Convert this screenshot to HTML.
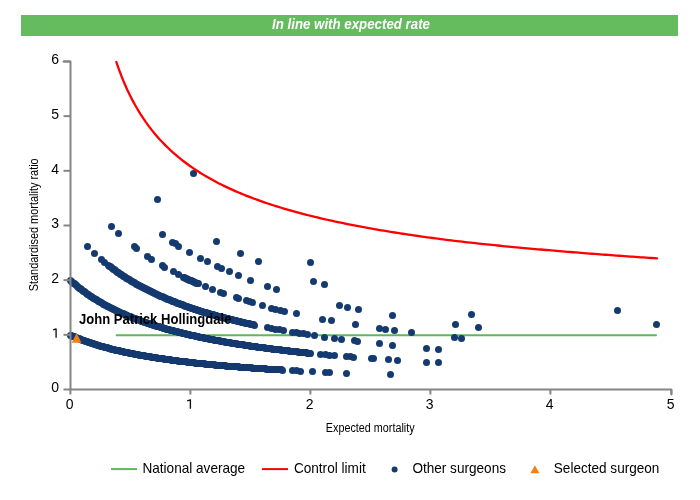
<!DOCTYPE html>
<html><head><meta charset="utf-8"><style>
html,body{margin:0;padding:0;background:#fff;width:700px;height:500px;overflow:hidden}
svg{display:block;font-family:"Liberation Sans",sans-serif;will-change:transform}
</style></head><body>
<svg width="700" height="500" viewBox="0 0 700 500">
<rect x="21" y="15" width="657" height="21" fill="#64BC5F"/>
<text x="272" y="29.2" font-weight="bold" font-style="italic" font-size="14" fill="#fff" textLength="158" lengthAdjust="spacingAndGlyphs">In line with expected rate</text>
<line x1="116.6" y1="335.3" x2="656" y2="335.3" stroke="#5CB85A" stroke-width="2" stroke-linecap="round"/>
<g fill="#143A70"><circle cx="70.5" cy="335.5" r="3.5"/><circle cx="71.5" cy="335.5" r="3.5"/><circle cx="72.5" cy="336.5" r="3.5"/><circle cx="73.5" cy="336.5" r="3.5"/><circle cx="74.5" cy="336.5" r="3.5"/><circle cx="75.5" cy="337.5" r="3.5"/><circle cx="76.5" cy="337.5" r="3.5"/><circle cx="77.5" cy="338.5" r="3.5"/><circle cx="78.5" cy="338.5" r="3.5"/><circle cx="79.5" cy="338.5" r="3.5"/><circle cx="80.5" cy="339.5" r="3.5"/><circle cx="81.5" cy="339.5" r="3.5"/><circle cx="82.5" cy="340.5" r="3.5"/><circle cx="83.5" cy="340.5" r="3.5"/><circle cx="84.5" cy="340.5" r="3.5"/><circle cx="85.5" cy="341.5" r="3.5"/><circle cx="86.5" cy="341.5" r="3.5"/><circle cx="87.5" cy="341.5" r="3.5"/><circle cx="88.5" cy="342.5" r="3.5"/><circle cx="89.5" cy="342.5" r="3.5"/><circle cx="90.5" cy="342.5" r="3.5"/><circle cx="91.5" cy="343.5" r="3.5"/><circle cx="92.5" cy="343.5" r="3.5"/><circle cx="93.5" cy="343.5" r="3.5"/><circle cx="94.5" cy="344.5" r="3.5"/><circle cx="95.5" cy="344.5" r="3.5"/><circle cx="96.5" cy="344.5" r="3.5"/><circle cx="97.5" cy="345.5" r="3.5"/><circle cx="98.5" cy="345.5" r="3.5"/><circle cx="99.5" cy="345.5" r="3.5"/><circle cx="100.5" cy="346.5" r="3.5"/><circle cx="101.5" cy="346.5" r="3.5"/><circle cx="102.5" cy="346.5" r="3.5"/><circle cx="103.5" cy="346.5" r="3.5"/><circle cx="104.5" cy="347.5" r="3.5"/><circle cx="105.5" cy="347.5" r="3.5"/><circle cx="106.5" cy="347.5" r="3.5"/><circle cx="107.5" cy="347.5" r="3.5"/><circle cx="108.5" cy="348.5" r="3.5"/><circle cx="109.5" cy="348.5" r="3.5"/><circle cx="110.5" cy="348.5" r="3.5"/><circle cx="111.5" cy="349.5" r="3.5"/><circle cx="112.5" cy="349.5" r="3.5"/><circle cx="113.5" cy="349.5" r="3.5"/><circle cx="114.5" cy="349.5" r="3.5"/><circle cx="115.5" cy="350.5" r="3.5"/><circle cx="116.5" cy="350.5" r="3.5"/><circle cx="117.5" cy="350.5" r="3.5"/><circle cx="118.5" cy="350.5" r="3.5"/><circle cx="119.5" cy="350.5" r="3.5"/><circle cx="120.5" cy="351.5" r="3.5"/><circle cx="121.5" cy="351.5" r="3.5"/><circle cx="122.5" cy="351.5" r="3.5"/><circle cx="123.5" cy="351.5" r="3.5"/><circle cx="124.5" cy="352.5" r="3.5"/><circle cx="125.5" cy="352.5" r="3.5"/><circle cx="126.5" cy="352.5" r="3.5"/><circle cx="127.5" cy="352.5" r="3.5"/><circle cx="128.5" cy="352.5" r="3.5"/><circle cx="129.5" cy="353.5" r="3.5"/><circle cx="130.5" cy="353.5" r="3.5"/><circle cx="131.5" cy="353.5" r="3.5"/><circle cx="132.5" cy="353.5" r="3.5"/><circle cx="133.5" cy="353.5" r="3.5"/><circle cx="134.5" cy="354.5" r="3.5"/><circle cx="135.5" cy="354.5" r="3.5"/><circle cx="136.5" cy="354.5" r="3.5"/><circle cx="137.5" cy="354.5" r="3.5"/><circle cx="138.5" cy="354.5" r="3.5"/><circle cx="139.5" cy="355.5" r="3.5"/><circle cx="140.5" cy="355.5" r="3.5"/><circle cx="141.5" cy="355.5" r="3.5"/><circle cx="142.5" cy="355.5" r="3.5"/><circle cx="143.5" cy="355.5" r="3.5"/><circle cx="144.5" cy="355.5" r="3.5"/><circle cx="145.5" cy="356.5" r="3.5"/><circle cx="146.5" cy="356.5" r="3.5"/><circle cx="147.5" cy="356.5" r="3.5"/><circle cx="148.5" cy="356.5" r="3.5"/><circle cx="149.5" cy="356.5" r="3.5"/><circle cx="150.5" cy="356.5" r="3.5"/><circle cx="151.5" cy="357.5" r="3.5"/><circle cx="152.5" cy="357.5" r="3.5"/><circle cx="153.5" cy="357.5" r="3.5"/><circle cx="154.5" cy="357.5" r="3.5"/><circle cx="155.5" cy="357.5" r="3.5"/><circle cx="156.5" cy="357.5" r="3.5"/><circle cx="157.5" cy="358.5" r="3.5"/><circle cx="158.5" cy="358.5" r="3.5"/><circle cx="159.5" cy="358.5" r="3.5"/><circle cx="160.5" cy="358.5" r="3.5"/><circle cx="161.5" cy="358.5" r="3.5"/><circle cx="162.5" cy="358.5" r="3.5"/><circle cx="163.5" cy="358.5" r="3.5"/><circle cx="164.5" cy="359.5" r="3.5"/><circle cx="165.5" cy="359.5" r="3.5"/><circle cx="166.5" cy="359.5" r="3.5"/><circle cx="167.5" cy="359.5" r="3.5"/><circle cx="168.5" cy="359.5" r="3.5"/><circle cx="169.5" cy="359.5" r="3.5"/><circle cx="170.5" cy="359.5" r="3.5"/><circle cx="171.5" cy="360.5" r="3.5"/><circle cx="172.5" cy="360.5" r="3.5"/><circle cx="173.5" cy="360.5" r="3.5"/><circle cx="174.5" cy="360.5" r="3.5"/><circle cx="175.5" cy="360.5" r="3.5"/><circle cx="176.5" cy="360.5" r="3.5"/><circle cx="177.5" cy="360.5" r="3.5"/><circle cx="178.5" cy="361.5" r="3.5"/><circle cx="179.5" cy="361.5" r="3.5"/><circle cx="180.5" cy="361.5" r="3.5"/><circle cx="181.5" cy="361.5" r="3.5"/><circle cx="182.5" cy="361.5" r="3.5"/><circle cx="183.5" cy="361.5" r="3.5"/><circle cx="184.5" cy="361.5" r="3.5"/><circle cx="185.5" cy="361.5" r="3.5"/><circle cx="186.5" cy="361.5" r="3.5"/><circle cx="187.5" cy="362.5" r="3.5"/><circle cx="188.5" cy="362.5" r="3.5"/><circle cx="189.5" cy="362.5" r="3.5"/><circle cx="190.5" cy="362.5" r="3.5"/><circle cx="191.5" cy="362.5" r="3.5"/><circle cx="192.5" cy="362.5" r="3.5"/><circle cx="193.5" cy="362.5" r="3.5"/><circle cx="194.5" cy="362.5" r="3.5"/><circle cx="195.5" cy="363.5" r="3.5"/><circle cx="196.5" cy="363.5" r="3.5"/><circle cx="197.5" cy="363.5" r="3.5"/><circle cx="198.5" cy="363.5" r="3.5"/><circle cx="199.5" cy="363.5" r="3.5"/><circle cx="200.5" cy="363.5" r="3.5"/><circle cx="201.5" cy="363.5" r="3.5"/><circle cx="202.5" cy="363.5" r="3.5"/><circle cx="203.5" cy="363.5" r="3.5"/><circle cx="204.5" cy="363.5" r="3.5"/><circle cx="205.5" cy="364.5" r="3.5"/><circle cx="206.5" cy="364.5" r="3.5"/><circle cx="207.5" cy="364.5" r="3.5"/><circle cx="208.5" cy="364.5" r="3.5"/><circle cx="209.5" cy="364.5" r="3.5"/><circle cx="210.5" cy="364.5" r="3.5"/><circle cx="211.5" cy="364.5" r="3.5"/><circle cx="212.5" cy="364.5" r="3.5"/><circle cx="213.5" cy="364.5" r="3.5"/><circle cx="214.5" cy="364.5" r="3.5"/><circle cx="215.5" cy="365.5" r="3.5"/><circle cx="216.5" cy="365.5" r="3.5"/><circle cx="217.5" cy="365.5" r="3.5"/><circle cx="218.5" cy="365.5" r="3.5"/><circle cx="219.5" cy="365.5" r="3.5"/><circle cx="220.5" cy="365.5" r="3.5"/><circle cx="221.5" cy="365.5" r="3.5"/><circle cx="222.5" cy="365.5" r="3.5"/><circle cx="223.5" cy="365.5" r="3.5"/><circle cx="224.5" cy="365.5" r="3.5"/><circle cx="225.5" cy="365.5" r="3.5"/><circle cx="226.5" cy="366.5" r="3.5"/><circle cx="227.5" cy="366.5" r="3.5"/><circle cx="228.5" cy="366.5" r="3.5"/><circle cx="229.5" cy="366.5" r="3.5"/><circle cx="230.5" cy="366.5" r="3.5"/><circle cx="231.5" cy="366.5" r="3.5"/><circle cx="232.5" cy="366.5" r="3.5"/><circle cx="233.5" cy="366.5" r="3.5"/><circle cx="234.5" cy="366.5" r="3.5"/><circle cx="235.5" cy="366.5" r="3.5"/><circle cx="236.5" cy="366.5" r="3.5"/><circle cx="237.5" cy="366.5" r="3.5"/><circle cx="238.5" cy="366.5" r="3.5"/><circle cx="239.5" cy="367.5" r="3.5"/><circle cx="240.5" cy="367.5" r="3.5"/><circle cx="241.5" cy="367.5" r="3.5"/><circle cx="242.5" cy="367.5" r="3.5"/><circle cx="243.5" cy="367.5" r="3.5"/><circle cx="244.5" cy="367.5" r="3.5"/><circle cx="245.5" cy="367.5" r="3.5"/><circle cx="246.5" cy="367.5" r="3.5"/><circle cx="247.5" cy="367.5" r="3.5"/><circle cx="248.5" cy="367.5" r="3.5"/><circle cx="249.5" cy="367.5" r="3.5"/><circle cx="250.5" cy="367.5" r="3.5"/><circle cx="251.5" cy="367.5" r="3.5"/><circle cx="252.5" cy="368.5" r="3.5"/><circle cx="253.5" cy="368.5" r="3.5"/><circle cx="254.5" cy="368.5" r="3.5"/><circle cx="255.5" cy="368.5" r="3.5"/><circle cx="256.5" cy="368.5" r="3.5"/><circle cx="257.5" cy="368.5" r="3.5"/><circle cx="258.5" cy="368.5" r="3.5"/><circle cx="259.5" cy="368.5" r="3.5"/><circle cx="260.5" cy="368.5" r="3.5"/><circle cx="261.5" cy="368.5" r="3.5"/><circle cx="262.5" cy="368.5" r="3.5"/><circle cx="263.5" cy="368.5" r="3.5"/><circle cx="264.5" cy="368.5" r="3.5"/><circle cx="265.5" cy="368.5" r="3.5"/><circle cx="266.5" cy="369.5" r="3.5"/><circle cx="267.5" cy="369.5" r="3.5"/><circle cx="268.5" cy="369.5" r="3.5"/><circle cx="269.5" cy="369.5" r="3.5"/><circle cx="270.5" cy="369.5" r="3.5"/><circle cx="271.5" cy="369.5" r="3.5"/><circle cx="272.5" cy="369.5" r="3.5"/><circle cx="273.5" cy="369.5" r="3.5"/><circle cx="274.5" cy="369.5" r="3.5"/><circle cx="275.5" cy="369.5" r="3.5"/><circle cx="276.5" cy="369.5" r="3.5"/><circle cx="277.5" cy="369.5" r="3.5"/><circle cx="278.5" cy="369.5" r="3.5"/><circle cx="279.5" cy="369.5" r="3.5"/><circle cx="280.5" cy="369.5" r="3.5"/><circle cx="281.5" cy="369.5" r="3.5"/><circle cx="282.5" cy="370.5" r="3.5"/><circle cx="292.5" cy="370.5" r="3.5"/><circle cx="296.5" cy="370.5" r="3.5"/><circle cx="300.5" cy="371.5" r="3.5"/><circle cx="312.5" cy="371.5" r="3.5"/><circle cx="325.5" cy="372.5" r="3.5"/><circle cx="329.5" cy="372.5" r="3.5"/><circle cx="346.5" cy="373.5" r="3.5"/><circle cx="390.5" cy="374.5" r="3.5"/><circle cx="70.5" cy="280.5" r="3.5"/><circle cx="71.5" cy="281.5" r="3.5"/><circle cx="72.5" cy="282.5" r="3.5"/><circle cx="73.5" cy="283.5" r="3.5"/><circle cx="74.5" cy="283.5" r="3.5"/><circle cx="75.5" cy="284.5" r="3.5"/><circle cx="76.5" cy="285.5" r="3.5"/><circle cx="77.5" cy="286.5" r="3.5"/><circle cx="78.5" cy="287.5" r="3.5"/><circle cx="79.5" cy="288.5" r="3.5"/><circle cx="80.5" cy="288.5" r="3.5"/><circle cx="81.5" cy="289.5" r="3.5"/><circle cx="82.5" cy="290.5" r="3.5"/><circle cx="83.5" cy="291.5" r="3.5"/><circle cx="84.5" cy="291.5" r="3.5"/><circle cx="85.5" cy="292.5" r="3.5"/><circle cx="86.5" cy="293.5" r="3.5"/><circle cx="87.5" cy="294.5" r="3.5"/><circle cx="88.5" cy="294.5" r="3.5"/><circle cx="89.5" cy="295.5" r="3.5"/><circle cx="90.5" cy="296.5" r="3.5"/><circle cx="91.5" cy="296.5" r="3.5"/><circle cx="92.5" cy="297.5" r="3.5"/><circle cx="93.5" cy="298.5" r="3.5"/><circle cx="94.5" cy="298.5" r="3.5"/><circle cx="95.5" cy="299.5" r="3.5"/><circle cx="96.5" cy="299.5" r="3.5"/><circle cx="97.5" cy="300.5" r="3.5"/><circle cx="98.5" cy="301.5" r="3.5"/><circle cx="99.5" cy="301.5" r="3.5"/><circle cx="100.5" cy="302.5" r="3.5"/><circle cx="101.5" cy="302.5" r="3.5"/><circle cx="102.5" cy="303.5" r="3.5"/><circle cx="103.5" cy="304.5" r="3.5"/><circle cx="104.5" cy="304.5" r="3.5"/><circle cx="105.5" cy="305.5" r="3.5"/><circle cx="106.5" cy="305.5" r="3.5"/><circle cx="107.5" cy="306.5" r="3.5"/><circle cx="108.5" cy="306.5" r="3.5"/><circle cx="109.5" cy="307.5" r="3.5"/><circle cx="110.5" cy="307.5" r="3.5"/><circle cx="111.5" cy="308.5" r="3.5"/><circle cx="112.5" cy="308.5" r="3.5"/><circle cx="113.5" cy="309.5" r="3.5"/><circle cx="114.5" cy="309.5" r="3.5"/><circle cx="115.5" cy="310.5" r="3.5"/><circle cx="116.5" cy="310.5" r="3.5"/><circle cx="117.5" cy="311.5" r="3.5"/><circle cx="118.5" cy="311.5" r="3.5"/><circle cx="119.5" cy="312.5" r="3.5"/><circle cx="120.5" cy="312.5" r="3.5"/><circle cx="121.5" cy="313.5" r="3.5"/><circle cx="122.5" cy="313.5" r="3.5"/><circle cx="123.5" cy="313.5" r="3.5"/><circle cx="124.5" cy="314.5" r="3.5"/><circle cx="125.5" cy="314.5" r="3.5"/><circle cx="126.5" cy="315.5" r="3.5"/><circle cx="127.5" cy="315.5" r="3.5"/><circle cx="128.5" cy="316.5" r="3.5"/><circle cx="129.5" cy="316.5" r="3.5"/><circle cx="130.5" cy="316.5" r="3.5"/><circle cx="131.5" cy="317.5" r="3.5"/><circle cx="132.5" cy="317.5" r="3.5"/><circle cx="133.5" cy="318.5" r="3.5"/><circle cx="134.5" cy="318.5" r="3.5"/><circle cx="135.5" cy="318.5" r="3.5"/><circle cx="136.5" cy="319.5" r="3.5"/><circle cx="137.5" cy="319.5" r="3.5"/><circle cx="138.5" cy="319.5" r="3.5"/><circle cx="139.5" cy="320.5" r="3.5"/><circle cx="140.5" cy="320.5" r="3.5"/><circle cx="141.5" cy="321.5" r="3.5"/><circle cx="142.5" cy="321.5" r="3.5"/><circle cx="143.5" cy="321.5" r="3.5"/><circle cx="144.5" cy="322.5" r="3.5"/><circle cx="145.5" cy="322.5" r="3.5"/><circle cx="146.5" cy="322.5" r="3.5"/><circle cx="147.5" cy="323.5" r="3.5"/><circle cx="148.5" cy="323.5" r="3.5"/><circle cx="149.5" cy="323.5" r="3.5"/><circle cx="150.5" cy="324.5" r="3.5"/><circle cx="151.5" cy="324.5" r="3.5"/><circle cx="152.5" cy="324.5" r="3.5"/><circle cx="153.5" cy="325.5" r="3.5"/><circle cx="154.5" cy="325.5" r="3.5"/><circle cx="155.5" cy="325.5" r="3.5"/><circle cx="156.5" cy="326.5" r="3.5"/><circle cx="157.5" cy="326.5" r="3.5"/><circle cx="158.5" cy="326.5" r="3.5"/><circle cx="159.5" cy="326.5" r="3.5"/><circle cx="160.5" cy="327.5" r="3.5"/><circle cx="161.5" cy="327.5" r="3.5"/><circle cx="162.5" cy="327.5" r="3.5"/><circle cx="163.5" cy="328.5" r="3.5"/><circle cx="164.5" cy="328.5" r="3.5"/><circle cx="165.5" cy="328.5" r="3.5"/><circle cx="166.5" cy="329.5" r="3.5"/><circle cx="167.5" cy="329.5" r="3.5"/><circle cx="168.5" cy="329.5" r="3.5"/><circle cx="169.5" cy="329.5" r="3.5"/><circle cx="170.5" cy="330.5" r="3.5"/><circle cx="171.5" cy="330.5" r="3.5"/><circle cx="172.5" cy="330.5" r="3.5"/><circle cx="173.5" cy="330.5" r="3.5"/><circle cx="174.5" cy="331.5" r="3.5"/><circle cx="175.5" cy="331.5" r="3.5"/><circle cx="176.5" cy="331.5" r="3.5"/><circle cx="177.5" cy="331.5" r="3.5"/><circle cx="178.5" cy="332.5" r="3.5"/><circle cx="179.5" cy="332.5" r="3.5"/><circle cx="180.5" cy="332.5" r="3.5"/><circle cx="181.5" cy="332.5" r="3.5"/><circle cx="182.5" cy="333.5" r="3.5"/><circle cx="183.5" cy="333.5" r="3.5"/><circle cx="184.5" cy="333.5" r="3.5"/><circle cx="185.5" cy="333.5" r="3.5"/><circle cx="186.5" cy="334.5" r="3.5"/><circle cx="187.5" cy="334.5" r="3.5"/><circle cx="188.5" cy="334.5" r="3.5"/><circle cx="189.5" cy="334.5" r="3.5"/><circle cx="190.5" cy="335.5" r="3.5"/><circle cx="191.5" cy="335.5" r="3.5"/><circle cx="192.5" cy="335.5" r="3.5"/><circle cx="193.5" cy="335.5" r="3.5"/><circle cx="194.5" cy="335.5" r="3.5"/><circle cx="195.5" cy="336.5" r="3.5"/><circle cx="196.5" cy="336.5" r="3.5"/><circle cx="197.5" cy="336.5" r="3.5"/><circle cx="198.5" cy="336.5" r="3.5"/><circle cx="199.5" cy="337.5" r="3.5"/><circle cx="200.5" cy="337.5" r="3.5"/><circle cx="201.5" cy="337.5" r="3.5"/><circle cx="202.5" cy="337.5" r="3.5"/><circle cx="203.5" cy="337.5" r="3.5"/><circle cx="204.5" cy="338.5" r="3.5"/><circle cx="205.5" cy="338.5" r="3.5"/><circle cx="206.5" cy="338.5" r="3.5"/><circle cx="207.5" cy="338.5" r="3.5"/><circle cx="208.5" cy="338.5" r="3.5"/><circle cx="209.5" cy="339.5" r="3.5"/><circle cx="210.5" cy="339.5" r="3.5"/><circle cx="211.5" cy="339.5" r="3.5"/><circle cx="212.5" cy="339.5" r="3.5"/><circle cx="213.5" cy="339.5" r="3.5"/><circle cx="214.5" cy="340.5" r="3.5"/><circle cx="215.5" cy="340.5" r="3.5"/><circle cx="216.5" cy="340.5" r="3.5"/><circle cx="217.5" cy="340.5" r="3.5"/><circle cx="218.5" cy="340.5" r="3.5"/><circle cx="219.5" cy="340.5" r="3.5"/><circle cx="220.5" cy="341.5" r="3.5"/><circle cx="221.5" cy="341.5" r="3.5"/><circle cx="222.5" cy="341.5" r="3.5"/><circle cx="223.5" cy="341.5" r="3.5"/><circle cx="224.5" cy="341.5" r="3.5"/><circle cx="225.5" cy="342.5" r="3.5"/><circle cx="226.5" cy="342.5" r="3.5"/><circle cx="227.5" cy="342.5" r="3.5"/><circle cx="228.5" cy="342.5" r="3.5"/><circle cx="229.5" cy="342.5" r="3.5"/><circle cx="230.5" cy="342.5" r="3.5"/><circle cx="231.5" cy="343.5" r="3.5"/><circle cx="232.5" cy="343.5" r="3.5"/><circle cx="233.5" cy="343.5" r="3.5"/><circle cx="234.5" cy="343.5" r="3.5"/><circle cx="235.5" cy="343.5" r="3.5"/><circle cx="236.5" cy="343.5" r="3.5"/><circle cx="237.5" cy="344.5" r="3.5"/><circle cx="238.5" cy="344.5" r="3.5"/><circle cx="239.5" cy="344.5" r="3.5"/><circle cx="240.5" cy="344.5" r="3.5"/><circle cx="241.5" cy="344.5" r="3.5"/><circle cx="242.5" cy="344.5" r="3.5"/><circle cx="243.5" cy="344.5" r="3.5"/><circle cx="244.5" cy="345.5" r="3.5"/><circle cx="245.5" cy="345.5" r="3.5"/><circle cx="246.5" cy="345.5" r="3.5"/><circle cx="247.5" cy="345.5" r="3.5"/><circle cx="248.5" cy="345.5" r="3.5"/><circle cx="249.5" cy="345.5" r="3.5"/><circle cx="250.5" cy="346.5" r="3.5"/><circle cx="251.5" cy="346.5" r="3.5"/><circle cx="252.5" cy="346.5" r="3.5"/><circle cx="253.5" cy="346.5" r="3.5"/><circle cx="254.5" cy="346.5" r="3.5"/><circle cx="255.5" cy="346.5" r="3.5"/><circle cx="256.5" cy="346.5" r="3.5"/><circle cx="257.5" cy="347.5" r="3.5"/><circle cx="258.5" cy="347.5" r="3.5"/><circle cx="259.5" cy="347.5" r="3.5"/><circle cx="260.5" cy="347.5" r="3.5"/><circle cx="261.5" cy="347.5" r="3.5"/><circle cx="262.5" cy="347.5" r="3.5"/><circle cx="263.5" cy="347.5" r="3.5"/><circle cx="264.5" cy="347.5" r="3.5"/><circle cx="265.5" cy="348.5" r="3.5"/><circle cx="266.5" cy="348.5" r="3.5"/><circle cx="267.5" cy="348.5" r="3.5"/><circle cx="268.5" cy="348.5" r="3.5"/><circle cx="269.5" cy="348.5" r="3.5"/><circle cx="270.5" cy="348.5" r="3.5"/><circle cx="271.5" cy="348.5" r="3.5"/><circle cx="272.5" cy="349.5" r="3.5"/><circle cx="273.5" cy="349.5" r="3.5"/><circle cx="274.5" cy="349.5" r="3.5"/><circle cx="275.5" cy="349.5" r="3.5"/><circle cx="276.5" cy="349.5" r="3.5"/><circle cx="277.5" cy="349.5" r="3.5"/><circle cx="278.5" cy="349.5" r="3.5"/><circle cx="279.5" cy="349.5" r="3.5"/><circle cx="280.5" cy="349.5" r="3.5"/><circle cx="281.5" cy="350.5" r="3.5"/><circle cx="282.5" cy="350.5" r="3.5"/><circle cx="283.5" cy="350.5" r="3.5"/><circle cx="284.5" cy="350.5" r="3.5"/><circle cx="285.5" cy="350.5" r="3.5"/><circle cx="286.5" cy="350.5" r="3.5"/><circle cx="287.5" cy="350.5" r="3.5"/><circle cx="288.5" cy="350.5" r="3.5"/><circle cx="289.5" cy="351.5" r="3.5"/><circle cx="290.5" cy="351.5" r="3.5"/><circle cx="291.5" cy="351.5" r="3.5"/><circle cx="292.5" cy="351.5" r="3.5"/><circle cx="293.5" cy="351.5" r="3.5"/><circle cx="294.5" cy="351.5" r="3.5"/><circle cx="295.5" cy="351.5" r="3.5"/><circle cx="296.5" cy="351.5" r="3.5"/><circle cx="297.5" cy="351.5" r="3.5"/><circle cx="298.5" cy="352.5" r="3.5"/><circle cx="299.5" cy="352.5" r="3.5"/><circle cx="300.5" cy="352.5" r="3.5"/><circle cx="301.5" cy="352.5" r="3.5"/><circle cx="302.5" cy="352.5" r="3.5"/><circle cx="303.5" cy="352.5" r="3.5"/><circle cx="304.5" cy="352.5" r="3.5"/><circle cx="305.5" cy="352.5" r="3.5"/><circle cx="306.5" cy="352.5" r="3.5"/><circle cx="307.5" cy="353.5" r="3.5"/><circle cx="308.5" cy="353.5" r="3.5"/><circle cx="309.5" cy="353.5" r="3.5"/><circle cx="310.5" cy="353.5" r="3.5"/><circle cx="320.5" cy="354.5" r="3.5"/><circle cx="325.5" cy="354.5" r="3.5"/><circle cx="329.5" cy="355.5" r="3.5"/><circle cx="334.5" cy="355.5" r="3.5"/><circle cx="346.5" cy="356.5" r="3.5"/><circle cx="350.5" cy="356.5" r="3.5"/><circle cx="353.5" cy="357.5" r="3.5"/><circle cx="371.5" cy="358.5" r="3.5"/><circle cx="373.5" cy="358.5" r="3.5"/><circle cx="388.5" cy="359.5" r="3.5"/><circle cx="397.5" cy="360.5" r="3.5"/><circle cx="426.5" cy="362.5" r="3.5"/><circle cx="438.5" cy="362.5" r="3.5"/><circle cx="87.5" cy="246.5" r="3.5"/><circle cx="94.5" cy="253.5" r="3.5"/><circle cx="101.5" cy="259.5" r="3.5"/><circle cx="104.5" cy="262.5" r="3.5"/><circle cx="108.5" cy="265.5" r="3.5"/><circle cx="109.5" cy="266.5" r="3.5"/><circle cx="110.5" cy="266.5" r="3.5"/><circle cx="111.5" cy="267.5" r="3.5"/><circle cx="112.5" cy="268.5" r="3.5"/><circle cx="113.5" cy="269.5" r="3.5"/><circle cx="114.5" cy="269.5" r="3.5"/><circle cx="115.5" cy="270.5" r="3.5"/><circle cx="116.5" cy="271.5" r="3.5"/><circle cx="117.5" cy="272.5" r="3.5"/><circle cx="118.5" cy="272.5" r="3.5"/><circle cx="119.5" cy="273.5" r="3.5"/><circle cx="120.5" cy="274.5" r="3.5"/><circle cx="121.5" cy="274.5" r="3.5"/><circle cx="122.5" cy="275.5" r="3.5"/><circle cx="123.5" cy="276.5" r="3.5"/><circle cx="124.5" cy="276.5" r="3.5"/><circle cx="125.5" cy="277.5" r="3.5"/><circle cx="126.5" cy="278.5" r="3.5"/><circle cx="127.5" cy="278.5" r="3.5"/><circle cx="128.5" cy="279.5" r="3.5"/><circle cx="129.5" cy="279.5" r="3.5"/><circle cx="130.5" cy="280.5" r="3.5"/><circle cx="131.5" cy="281.5" r="3.5"/><circle cx="132.5" cy="281.5" r="3.5"/><circle cx="133.5" cy="282.5" r="3.5"/><circle cx="134.5" cy="282.5" r="3.5"/><circle cx="135.5" cy="283.5" r="3.5"/><circle cx="136.5" cy="284.5" r="3.5"/><circle cx="137.5" cy="284.5" r="3.5"/><circle cx="138.5" cy="285.5" r="3.5"/><circle cx="139.5" cy="285.5" r="3.5"/><circle cx="140.5" cy="286.5" r="3.5"/><circle cx="141.5" cy="286.5" r="3.5"/><circle cx="142.5" cy="287.5" r="3.5"/><circle cx="143.5" cy="287.5" r="3.5"/><circle cx="144.5" cy="288.5" r="3.5"/><circle cx="145.5" cy="288.5" r="3.5"/><circle cx="146.5" cy="289.5" r="3.5"/><circle cx="147.5" cy="289.5" r="3.5"/><circle cx="148.5" cy="290.5" r="3.5"/><circle cx="149.5" cy="290.5" r="3.5"/><circle cx="150.5" cy="291.5" r="3.5"/><circle cx="151.5" cy="291.5" r="3.5"/><circle cx="152.5" cy="292.5" r="3.5"/><circle cx="153.5" cy="292.5" r="3.5"/><circle cx="154.5" cy="293.5" r="3.5"/><circle cx="155.5" cy="293.5" r="3.5"/><circle cx="156.5" cy="294.5" r="3.5"/><circle cx="157.5" cy="294.5" r="3.5"/><circle cx="158.5" cy="295.5" r="3.5"/><circle cx="159.5" cy="295.5" r="3.5"/><circle cx="160.5" cy="296.5" r="3.5"/><circle cx="161.5" cy="296.5" r="3.5"/><circle cx="162.5" cy="296.5" r="3.5"/><circle cx="163.5" cy="297.5" r="3.5"/><circle cx="164.5" cy="297.5" r="3.5"/><circle cx="165.5" cy="298.5" r="3.5"/><circle cx="166.5" cy="298.5" r="3.5"/><circle cx="167.5" cy="299.5" r="3.5"/><circle cx="168.5" cy="299.5" r="3.5"/><circle cx="169.5" cy="299.5" r="3.5"/><circle cx="170.5" cy="300.5" r="3.5"/><circle cx="171.5" cy="300.5" r="3.5"/><circle cx="172.5" cy="301.5" r="3.5"/><circle cx="173.5" cy="301.5" r="3.5"/><circle cx="174.5" cy="301.5" r="3.5"/><circle cx="175.5" cy="302.5" r="3.5"/><circle cx="176.5" cy="302.5" r="3.5"/><circle cx="177.5" cy="303.5" r="3.5"/><circle cx="178.5" cy="303.5" r="3.5"/><circle cx="179.5" cy="303.5" r="3.5"/><circle cx="180.5" cy="304.5" r="3.5"/><circle cx="181.5" cy="304.5" r="3.5"/><circle cx="182.5" cy="304.5" r="3.5"/><circle cx="183.5" cy="305.5" r="3.5"/><circle cx="184.5" cy="305.5" r="3.5"/><circle cx="185.5" cy="306.5" r="3.5"/><circle cx="186.5" cy="306.5" r="3.5"/><circle cx="187.5" cy="306.5" r="3.5"/><circle cx="188.5" cy="307.5" r="3.5"/><circle cx="189.5" cy="307.5" r="3.5"/><circle cx="190.5" cy="307.5" r="3.5"/><circle cx="191.5" cy="308.5" r="3.5"/><circle cx="192.5" cy="308.5" r="3.5"/><circle cx="193.5" cy="308.5" r="3.5"/><circle cx="194.5" cy="309.5" r="3.5"/><circle cx="195.5" cy="309.5" r="3.5"/><circle cx="196.5" cy="309.5" r="3.5"/><circle cx="197.5" cy="310.5" r="3.5"/><circle cx="198.5" cy="310.5" r="3.5"/><circle cx="199.5" cy="310.5" r="3.5"/><circle cx="200.5" cy="311.5" r="3.5"/><circle cx="201.5" cy="311.5" r="3.5"/><circle cx="202.5" cy="311.5" r="3.5"/><circle cx="203.5" cy="312.5" r="3.5"/><circle cx="204.5" cy="312.5" r="3.5"/><circle cx="205.5" cy="312.5" r="3.5"/><circle cx="206.5" cy="312.5" r="3.5"/><circle cx="207.5" cy="313.5" r="3.5"/><circle cx="208.5" cy="313.5" r="3.5"/><circle cx="209.5" cy="313.5" r="3.5"/><circle cx="210.5" cy="314.5" r="3.5"/><circle cx="211.5" cy="314.5" r="3.5"/><circle cx="212.5" cy="314.5" r="3.5"/><circle cx="213.5" cy="314.5" r="3.5"/><circle cx="214.5" cy="315.5" r="3.5"/><circle cx="215.5" cy="315.5" r="3.5"/><circle cx="216.5" cy="315.5" r="3.5"/><circle cx="217.5" cy="316.5" r="3.5"/><circle cx="218.5" cy="316.5" r="3.5"/><circle cx="219.5" cy="316.5" r="3.5"/><circle cx="220.5" cy="316.5" r="3.5"/><circle cx="221.5" cy="317.5" r="3.5"/><circle cx="222.5" cy="317.5" r="3.5"/><circle cx="223.5" cy="317.5" r="3.5"/><circle cx="224.5" cy="317.5" r="3.5"/><circle cx="225.5" cy="318.5" r="3.5"/><circle cx="226.5" cy="318.5" r="3.5"/><circle cx="227.5" cy="318.5" r="3.5"/><circle cx="228.5" cy="318.5" r="3.5"/><circle cx="229.5" cy="319.5" r="3.5"/><circle cx="230.5" cy="319.5" r="3.5"/><circle cx="231.5" cy="319.5" r="3.5"/><circle cx="232.5" cy="319.5" r="3.5"/><circle cx="233.5" cy="320.5" r="3.5"/><circle cx="234.5" cy="320.5" r="3.5"/><circle cx="235.5" cy="320.5" r="3.5"/><circle cx="236.5" cy="320.5" r="3.5"/><circle cx="237.5" cy="321.5" r="3.5"/><circle cx="238.5" cy="321.5" r="3.5"/><circle cx="239.5" cy="321.5" r="3.5"/><circle cx="240.5" cy="321.5" r="3.5"/><circle cx="241.5" cy="322.5" r="3.5"/><circle cx="242.5" cy="322.5" r="3.5"/><circle cx="243.5" cy="322.5" r="3.5"/><circle cx="244.5" cy="322.5" r="3.5"/><circle cx="245.5" cy="323.5" r="3.5"/><circle cx="246.5" cy="323.5" r="3.5"/><circle cx="247.5" cy="323.5" r="3.5"/><circle cx="248.5" cy="323.5" r="3.5"/><circle cx="249.5" cy="323.5" r="3.5"/><circle cx="250.5" cy="324.5" r="3.5"/><circle cx="251.5" cy="324.5" r="3.5"/><circle cx="252.5" cy="324.5" r="3.5"/><circle cx="253.5" cy="324.5" r="3.5"/><circle cx="254.5" cy="325.5" r="3.5"/><circle cx="267.5" cy="327.5" r="3.5"/><circle cx="271.5" cy="328.5" r="3.5"/><circle cx="275.5" cy="329.5" r="3.5"/><circle cx="279.5" cy="329.5" r="3.5"/><circle cx="283.5" cy="330.5" r="3.5"/><circle cx="292.5" cy="332.5" r="3.5"/><circle cx="296.5" cy="332.5" r="3.5"/><circle cx="299.5" cy="333.5" r="3.5"/><circle cx="303.5" cy="333.5" r="3.5"/><circle cx="307.5" cy="334.5" r="3.5"/><circle cx="314.5" cy="335.5" r="3.5"/><circle cx="324.5" cy="337.5" r="3.5"/><circle cx="334.5" cy="338.5" r="3.5"/><circle cx="341.5" cy="339.5" r="3.5"/><circle cx="354.5" cy="340.5" r="3.5"/><circle cx="357.5" cy="341.5" r="3.5"/><circle cx="379.5" cy="343.5" r="3.5"/><circle cx="392.5" cy="345.5" r="3.5"/><circle cx="426.5" cy="348.5" r="3.5"/><circle cx="438.5" cy="349.5" r="3.5"/><circle cx="111.5" cy="226.5" r="3.5"/><circle cx="118.5" cy="233.5" r="3.5"/><circle cx="134.5" cy="246.5" r="3.5"/><circle cx="136.5" cy="248.5" r="3.5"/><circle cx="147.5" cy="256.5" r="3.5"/><circle cx="151.5" cy="259.5" r="3.5"/><circle cx="162.5" cy="265.5" r="3.5"/><circle cx="164.5" cy="267.5" r="3.5"/><circle cx="173.5" cy="271.5" r="3.5"/><circle cx="178.5" cy="274.5" r="3.5"/><circle cx="183.5" cy="277.5" r="3.5"/><circle cx="184.5" cy="277.5" r="3.5"/><circle cx="185.5" cy="278.5" r="3.5"/><circle cx="186.5" cy="278.5" r="3.5"/><circle cx="187.5" cy="279.5" r="3.5"/><circle cx="188.5" cy="279.5" r="3.5"/><circle cx="189.5" cy="280.5" r="3.5"/><circle cx="190.5" cy="280.5" r="3.5"/><circle cx="191.5" cy="280.5" r="3.5"/><circle cx="192.5" cy="281.5" r="3.5"/><circle cx="193.5" cy="281.5" r="3.5"/><circle cx="194.5" cy="282.5" r="3.5"/><circle cx="195.5" cy="282.5" r="3.5"/><circle cx="196.5" cy="283.5" r="3.5"/><circle cx="197.5" cy="283.5" r="3.5"/><circle cx="198.5" cy="283.5" r="3.5"/><circle cx="205.5" cy="286.5" r="3.5"/><circle cx="212.5" cy="289.5" r="3.5"/><circle cx="220.5" cy="292.5" r="3.5"/><circle cx="223.5" cy="293.5" r="3.5"/><circle cx="236.5" cy="297.5" r="3.5"/><circle cx="238.5" cy="298.5" r="3.5"/><circle cx="246.5" cy="300.5" r="3.5"/><circle cx="249.5" cy="301.5" r="3.5"/><circle cx="252.5" cy="302.5" r="3.5"/><circle cx="262.5" cy="305.5" r="3.5"/><circle cx="271.5" cy="308.5" r="3.5"/><circle cx="275.5" cy="309.5" r="3.5"/><circle cx="280.5" cy="310.5" r="3.5"/><circle cx="284.5" cy="311.5" r="3.5"/><circle cx="296.5" cy="313.5" r="3.5"/><circle cx="322.5" cy="319.5" r="3.5"/><circle cx="331.5" cy="320.5" r="3.5"/><circle cx="355.5" cy="324.5" r="3.5"/><circle cx="379.5" cy="328.5" r="3.5"/><circle cx="385.5" cy="329.5" r="3.5"/><circle cx="394.5" cy="330.5" r="3.5"/><circle cx="411.5" cy="332.5" r="3.5"/><circle cx="454.5" cy="337.5" r="3.5"/><circle cx="461.5" cy="338.5" r="3.5"/><circle cx="162.5" cy="234.5" r="3.5"/><circle cx="172.5" cy="242.5" r="3.5"/><circle cx="175.5" cy="243.5" r="3.5"/><circle cx="178.5" cy="246.5" r="3.5"/><circle cx="189.5" cy="252.5" r="3.5"/><circle cx="200.5" cy="258.5" r="3.5"/><circle cx="207.5" cy="261.5" r="3.5"/><circle cx="217.5" cy="266.5" r="3.5"/><circle cx="221.5" cy="268.5" r="3.5"/><circle cx="229.5" cy="271.5" r="3.5"/><circle cx="238.5" cy="275.5" r="3.5"/><circle cx="250.5" cy="280.5" r="3.5"/><circle cx="267.5" cy="286.5" r="3.5"/><circle cx="276.5" cy="289.5" r="3.5"/><circle cx="339.5" cy="305.5" r="3.5"/><circle cx="347.5" cy="307.5" r="3.5"/><circle cx="358.5" cy="309.5" r="3.5"/><circle cx="392.5" cy="315.5" r="3.5"/><circle cx="455.5" cy="324.5" r="3.5"/><circle cx="478.5" cy="327.5" r="3.5"/><circle cx="157.5" cy="199.5" r="3.5"/><circle cx="216.5" cy="241.5" r="3.5"/><circle cx="240.5" cy="253.5" r="3.5"/><circle cx="258.5" cy="261.5" r="3.5"/><circle cx="313.5" cy="281.5" r="3.5"/><circle cx="324.5" cy="284.5" r="3.5"/><circle cx="471.5" cy="314.5" r="3.5"/><circle cx="310.5" cy="262.5" r="3.5"/><circle cx="656.5" cy="324.5" r="3.5"/><circle cx="193.5" cy="173.5" r="3.5"/><circle cx="617.5" cy="310.5" r="3.5"/></g>
<path d="M116.31,61.98 L119.01,69.69 L121.71,76.78 L124.42,83.33 L127.12,89.41 L129.82,95.07 L132.53,100.36 L135.23,105.31 L137.93,109.96 L140.64,114.34 L143.34,118.47 L146.04,122.38 L148.75,126.09 L151.45,129.61 L154.15,132.96 L156.86,136.14 L159.56,139.19 L162.26,142.09 L164.97,144.88 L167.67,147.54 L170.37,150.10 L173.08,152.55 L175.78,154.91 L178.48,157.18 L181.19,159.37 L183.89,161.48 L186.59,163.51 L189.30,165.48 L192.00,167.38 L194.70,169.21 L197.41,170.99 L200.11,172.71 L202.81,174.38 L205.52,176.00 L208.22,177.57 L210.92,179.09 L213.63,180.57 L216.33,182.01 L219.03,183.42 L221.74,184.78 L224.44,186.10 L227.14,187.40 L229.85,188.66 L232.55,189.88 L235.25,191.08 L237.96,192.25 L240.66,193.39 L243.36,194.50 L246.07,195.59 L248.77,196.66 L251.47,197.69 L254.18,198.71 L256.88,199.70 L259.58,200.68 L262.29,201.63 L264.99,202.56 L267.69,203.47 L270.40,204.37 L273.10,205.24 L275.80,206.10 L278.51,206.94 L281.21,207.77 L283.91,208.58 L286.62,209.38 L289.32,210.16 L292.02,210.92 L294.73,211.67 L297.43,212.41 L300.13,213.14 L302.84,213.85 L305.54,214.55 L308.24,215.24 L310.95,215.91 L313.65,216.58 L316.35,217.23 L319.06,217.88 L321.76,218.51 L324.46,219.13 L327.17,219.75 L329.87,220.35 L332.57,220.95 L335.28,221.53 L337.98,222.11 L340.68,222.68 L343.39,223.23 L346.09,223.79 L348.79,224.33 L351.50,224.86 L354.20,225.39 L356.90,225.91 L359.61,226.42 L362.31,226.93 L365.01,227.43 L367.72,227.92 L370.42,228.40 L373.12,228.88 L375.83,229.35 L378.53,229.82 L381.23,230.28 L383.94,230.73 L386.64,231.18 L389.34,231.62 L392.05,232.06 L394.75,232.49 L397.46,232.92 L400.16,233.34 L402.86,233.75 L405.57,234.16 L408.27,234.57 L410.97,234.97 L413.68,235.37 L416.38,235.76 L419.08,236.15 L421.79,236.53 L424.49,236.91 L427.19,237.28 L429.90,237.65 L432.60,238.01 L435.30,238.37 L438.01,238.73 L440.71,239.09 L443.41,239.43 L446.12,239.78 L448.82,240.12 L451.52,240.45 L454.23,240.78 L456.93,241.09 L459.63,241.41 L462.34,241.72 L465.04,242.03 L467.74,242.34 L470.45,242.64 L473.15,242.94 L475.85,243.23 L478.56,243.53 L481.26,243.82 L483.96,244.10 L486.67,244.39 L489.37,244.67 L492.07,244.95 L494.78,245.22 L497.48,245.49 L500.18,245.76 L502.89,246.03 L505.59,246.30 L508.29,246.56 L511.00,246.82 L513.70,247.08 L516.40,247.33 L519.11,247.58 L521.81,247.83 L524.51,248.08 L527.22,248.32 L529.92,248.57 L532.62,248.81 L535.33,249.05 L538.03,249.28 L540.73,249.52 L543.44,249.75 L546.14,249.98 L548.84,250.21 L551.55,250.43 L554.25,250.66 L556.95,250.88 L559.66,251.10 L562.36,251.33 L565.06,251.56 L567.77,251.78 L570.47,252.01 L573.17,252.23 L575.88,252.45 L578.58,252.67 L581.28,252.89 L583.99,253.11 L586.69,253.32 L589.39,253.53 L592.10,253.74 L594.80,253.95 L597.50,254.16 L600.21,254.37 L602.91,254.57 L605.61,254.77 L608.32,254.97 L611.02,255.17 L613.72,255.37 L616.43,255.57 L619.13,255.77 L621.83,255.96 L624.54,256.15 L627.24,256.34 L629.94,256.53 L632.65,256.72 L635.35,256.91 L638.05,257.09 L640.76,257.28 L643.46,257.46 L646.16,257.64 L648.87,257.82 L651.57,258.00 L654.27,258.18 L656.98,258.36" fill="none" stroke="#FF0000" stroke-width="2.3" stroke-linecap="round"/>
<path d="M76.60,333.10 L81.40,342.80 L71.80,342.80 Z" fill="#F28210"/>
<path d="M63.5,61.5 H70.5 V389.5 H671.4 V394.5" fill="none" stroke="#858585" stroke-width="2" stroke-linejoin="round" stroke-linecap="round"/>
<line x1="63.5" y1="389.50" x2="70.5" y2="389.50" stroke="#858585" stroke-width="2"/>
<text x="59" y="392.30" text-anchor="end" font-size="14" fill="#000">0</text>
<line x1="63.5" y1="334.83" x2="70.5" y2="334.83" stroke="#858585" stroke-width="2"/>
<path d="M53.2,329.9 L56.1,328.9 M56.1,328.5 V337.8" fill="none" stroke="#111" stroke-width="1.35"/>
<line x1="63.5" y1="280.16" x2="70.5" y2="280.16" stroke="#858585" stroke-width="2"/>
<text x="59" y="282.96" text-anchor="end" font-size="14" fill="#000">2</text>
<line x1="63.5" y1="225.49" x2="70.5" y2="225.49" stroke="#858585" stroke-width="2"/>
<text x="59" y="228.29" text-anchor="end" font-size="14" fill="#000">3</text>
<line x1="63.5" y1="170.82" x2="70.5" y2="170.82" stroke="#858585" stroke-width="2"/>
<text x="59" y="173.62" text-anchor="end" font-size="14" fill="#000">4</text>
<line x1="63.5" y1="116.15" x2="70.5" y2="116.15" stroke="#858585" stroke-width="2"/>
<text x="59" y="118.95" text-anchor="end" font-size="14" fill="#000">5</text>
<line x1="63.5" y1="61.48" x2="70.5" y2="61.48" stroke="#858585" stroke-width="2"/>
<text x="59" y="64.28" text-anchor="end" font-size="14" fill="#000">6</text>
<line x1="70.40" y1="389.5" x2="70.40" y2="394.5" stroke="#858585" stroke-width="2"/>
<text x="69.60" y="408.6" text-anchor="middle" font-size="14" fill="#000">0</text>
<line x1="190.40" y1="389.5" x2="190.40" y2="394.5" stroke="#858585" stroke-width="2"/>
<path d="M187.2,400.8 L190.4,399.8 M190.4,399.3 V408.7" fill="none" stroke="#111" stroke-width="1.35"/>
<line x1="310.40" y1="389.5" x2="310.40" y2="394.5" stroke="#858585" stroke-width="2"/>
<text x="309.60" y="408.6" text-anchor="middle" font-size="14" fill="#000">2</text>
<line x1="430.40" y1="389.5" x2="430.40" y2="394.5" stroke="#858585" stroke-width="2"/>
<text x="429.60" y="408.6" text-anchor="middle" font-size="14" fill="#000">3</text>
<line x1="550.40" y1="389.5" x2="550.40" y2="394.5" stroke="#858585" stroke-width="2"/>
<text x="549.60" y="408.6" text-anchor="middle" font-size="14" fill="#000">4</text>
<line x1="671.40" y1="389.5" x2="671.40" y2="394.5" stroke="#858585" stroke-width="2"/>
<text x="670.60" y="408.6" text-anchor="middle" font-size="14" fill="#000">5</text>
<text x="79" y="323.6" font-weight="bold" font-size="14" fill="#000" textLength="152.4" lengthAdjust="spacingAndGlyphs">John Patrick Hollingdale</text>
<text x="325.8" y="431.8" font-size="12" fill="#000" textLength="88.8" lengthAdjust="spacingAndGlyphs">Expected mortality</text>
<text transform="translate(37.8,291.3) rotate(-90)" x="0" y="0" font-size="12" fill="#000" textLength="133" lengthAdjust="spacingAndGlyphs">Standardised mortality ratio</text>
<line x1="111" y1="469.1" x2="137" y2="469.1" stroke="#5CB85A" stroke-width="2"/>
<text x="142.4" y="472.9" font-size="14.5" fill="#000" textLength="102.8" lengthAdjust="spacingAndGlyphs">National average</text>
<line x1="262" y1="469.1" x2="288" y2="469.1" stroke="#FF0000" stroke-width="2"/>
<text x="293.9" y="472.9" font-size="14.5" fill="#000" textLength="71.8" lengthAdjust="spacingAndGlyphs">Control limit</text>
<circle cx="394.6" cy="469.4" r="3" fill="#143A70"/>
<text x="412.4" y="472.9" font-size="14.5" fill="#000" textLength="93.6" lengthAdjust="spacingAndGlyphs">Other surgeons</text>
<path d="M534.9,465.2 L539.4,473.3 L530.4,473.3 Z" fill="#F28210"/>
<text x="553.8" y="472.9" font-size="14.5" fill="#000" textLength="105.6" lengthAdjust="spacingAndGlyphs">Selected surgeon</text>
</svg>
</body></html>
